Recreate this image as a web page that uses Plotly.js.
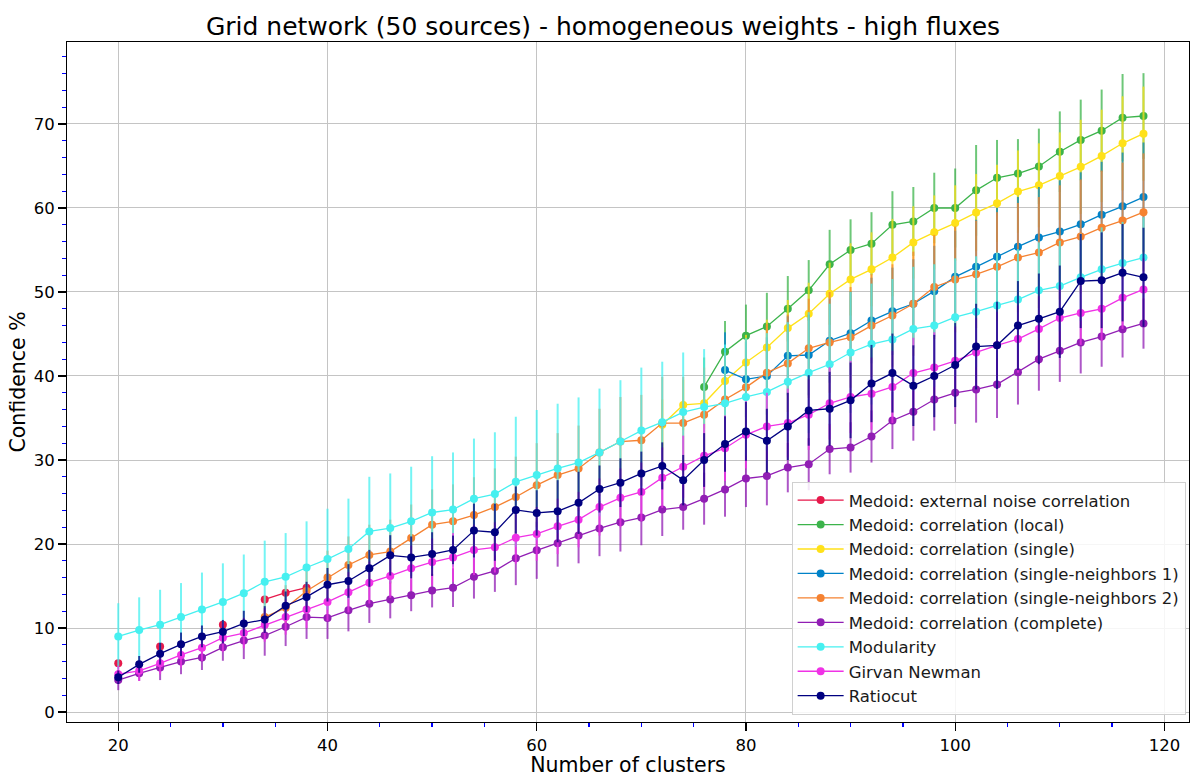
<!DOCTYPE html>
<html>
<head>
<meta charset="utf-8">
<script src="https://cdn.plot.ly/plotly-3.0.1.min.js"></script>
<style>html,body{margin:0;padding:0;background:#fff;}#chart{width:1195px;height:777px;}</style>
</head>
<body>
<div id="chart"></div>
<script>
// Number of clusters (x axis)
const clusters = [20,22,24,26,28,30,32,34,36,38,40,42,44,46,48,50,52,54,56,58,60,62,64,66,68,70,72,74,76,78,80,82,84,86,88,90,92,94,96,98,100,102,104,106,108,110,112,114,116,118];

// Series names
const names = [
  "Medoid: external noise correlation",
  "Medoid: correlation (local)",
  "Medoid: correlation (single)",
  "Medoid: correlation (single-neighbors 1)",
  "Medoid: correlation (single-neighbors 2)",
  "Medoid: correlation (complete)",
  "Modularity",
  "Girvan Newman",
  "Ratiocut"
];

// Medoid: external noise correlation (x = 20..38, gaps = null)
const externalNoise = [5.8, null, 7.8, null, null, 10.4, null, 13.4, 14.2, 14.8];

// Medoid: correlation (local) (x = 76..118)
const localVals = [38.7,42.9,44.8,45.9,48.0,50.2,53.3,55.0,55.75,58.0,58.4,60.0,60.0,62.1,63.6,64.1,64.95,66.7,68.1,69.2,70.75,70.95];
const localErr  = [3.5,3.65,3.7,4.0,3.9,3.6,4.1,3.65,3.75,4.0,4.1,4.2,4.7,5.4,4.5,4.1,4.5,4.8,4.8,4.9,5.2,5.1];

// Medoid: correlation (single) (x = 72..118)
const singleVals = [34.2,36.55,36.75,39.4,41.6,43.4,45.7,47.4,49.8,51.5,52.7,54.1,55.9,57.1,58.2,59.45,60.55,61.95,62.7,63.8,64.9,66.2,67.7,68.85];
const singleErr  = [3.0,3.0,3.0,3.2,3.3,3.3,3.35,3.7,3.7,4.3,4.4,4.6,4.3,4.4,4.5,4.6,4.6,4.9,5.0,5.2,5.6,5.5,5.6,5.6];

// Medoid: correlation (single-neighbors 1) (x = 78..118)
const sn1Vals = [40.7,39.6,40.0,42.4,42.5,44.2,45.1,46.6,47.7,48.6,50.1,51.8,53.0,54.2,55.4,56.5,57.2,58.05,59.2,60.2,61.3];
const sn1Err  = [4.5,4.5,4.6,4.7,4.8,5.0,5.0,5.1,5.2,5.3,5.4,5.5,5.6,5.8,5.9,6.0,6.1,6.2,6.3,6.4,6.5];

// Medoid: correlation (single-neighbors 2) (x = 34..118)
const sn2Vals = [11.3,12.4,14.4,16.0,17.5,18.7,19.1,20.7,22.3,22.7,
                 23.45,24.4,25.6,27.0,28.2,29.0,30.9,32.2,32.35,34.4,
                 34.4,35.4,37.2,38.65,40.4,41.5,43.3,44.0,44.6,46.0,
                 47.2,48.6,50.6,51.5,52.1,53.0,54.1,54.7,55.9,56.6,
                 57.65,58.5,59.5];
const sn2Err  = [2.5,2.7,3.0,3.2,3.4,3.6,3.8,4.0,4.2,4.4,
                 4.5,4.6,4.8,5.0,5.0,5.1,5.2,5.3,5.4,5.5,
                 5.5,5.6,5.6,5.7,5.8,5.8,5.9,6.0,6.0,6.1,
                 6.1,6.2,6.2,6.3,6.4,6.5,6.5,6.6,6.8,6.8,
                 6.8,6.9,7.0];

// Medoid: correlation (complete) (x = 20..118)
const completeVals = [3.8,4.6,5.3,6.0,6.5,7.7,8.5,9.1,10.15,11.3,
                      11.2,12.1,12.9,13.4,13.9,14.45,14.8,16.1,16.8,18.3,
                      19.25,20.1,21.0,21.85,22.6,23.15,24.1,24.4,25.4,26.5,
                      27.8,28.1,29.1,29.5,31.3,31.5,32.8,34.7,35.75,37.2,
                      38.0,38.4,39.0,40.45,42.0,43.0,44.0,44.7,45.55,46.25];
const completeErr  = [1.2,0.9,1.5,1.5,1.5,1.6,2.2,2.4,2.3,2.6,
                      2.5,2.5,2.3,2.25,1.9,2.0,2.3,2.6,2.5,3.2,
                      3.4,2.8,3.3,3.3,3.5,3.3,3.15,2.7,3.1,3.25,
                      3.4,3.5,2.95,3.1,3.0,3.0,3.1,3.4,3.45,3.7,
                      3.7,3.95,4.0,3.85,3.75,3.7,3.7,3.6,3.35,3.0];

// Modularity (x = 20..118)
const modularityVals = [9.0,9.75,10.4,11.3,12.2,13.1,14.15,15.5,16.1,17.2,
                        18.2,19.4,21.5,21.9,22.7,23.75,24.1,25.4,25.95,27.4,
                        28.2,29.0,29.7,30.9,32.2,33.5,34.5,35.7,36.3,36.75,
                        37.5,38.1,39.3,40.4,41.4,42.8,43.8,44.35,45.6,46.0,
                        47.0,47.65,48.4,49.1,50.2,50.7,51.75,52.7,53.45,54.1];
const modularityErr  = [3.95,3.9,4.15,4.05,4.4,4.6,4.6,4.9,5.2,5.5,
                        6.0,6.0,6.5,6.5,6.5,6.7,6.8,7.15,7.35,7.75,
                        7.75,7.7,7.75,7.6,7.3,7.5,7.2,7.1,6.9,7.0,
                        7.0,7.0,7.1,7.2,7.2,7.2,7.2,7.2,7.4,7.3,
                        7.0,6.6,6.3,6.0,5.7,5.4,5.2,5.0,4.9,4.8];

// Girvan Newman (x = 20..118)
const girvanVals = [4.5,4.9,5.8,6.8,7.65,8.85,9.4,10.36,11.3,12.2,
                    13.1,14.25,15.4,16.2,17.1,17.85,18.4,19.3,19.6,20.75,
                    21.2,22.1,22.9,24.4,25.5,26.2,27.9,29.2,30.5,31.4,
                    33.0,34.0,34.4,35.4,36.75,37.5,37.9,38.7,40.35,41.0,
                    41.8,42.8,43.65,44.4,45.6,46.9,47.5,48.0,49.3,50.3];
const girvanErr  = [1.0,1.2,1.3,1.5,1.6,1.7,1.8,2.0,2.1,2.2,
                    2.3,2.4,2.5,2.6,2.7,2.8,2.9,3.0,3.0,3.1,
                    3.2,3.3,3.3,3.4,3.5,3.5,3.6,3.7,3.8,3.9,
                    4.0,4.0,4.1,4.2,4.3,4.3,4.3,4.3,4.2,4.2,
                    4.1,4.1,4.0,4.0,3.9,3.9,3.8,3.8,3.7,3.7];

// Ratiocut (x = 20..118)
const ratiocutVals = [4.13,5.67,6.94,8.06,9.0,9.56,10.55,11.0,12.65,13.7,
                      15.15,15.6,17.1,18.65,18.4,18.8,19.3,21.6,21.4,24.05,
                      23.7,23.9,24.9,26.55,27.3,28.4,29.3,27.6,30.0,31.9,
                      33.4,32.3,34.0,35.9,36.1,37.1,39.1,40.35,38.85,40.0,
                      41.3,43.5,43.65,46.0,46.8,47.65,51.3,51.4,52.3,51.75];
const ratiocutErr  = [0.8,1.0,1.3,1.4,1.3,1.4,1.5,1.6,1.7,1.8,
                      2.0,2.0,2.2,2.4,2.5,2.6,1.7,3.2,3.4,2.8,
                      2.7,3.7,3.7,2.8,2.9,2.6,2.8,3.0,3.2,3.3,
                      3.5,3.8,4.0,4.2,4.4,4.5,4.6,4.7,4.8,4.9,
                      5.0,5.1,5.2,5.3,5.4,5.5,5.6,5.7,5.8,5.9];

const colors = ["#e6194b","#3cb44b","#ffe119","#0082c8","#f58231","#911eb4","#46f0f0","#f032e6","#000080"];

function rgba(hex, a) {
  const r = parseInt(hex.slice(1,3),16), g = parseInt(hex.slice(3,5),16), b = parseInt(hex.slice(5,7),16);
  return `rgba(${r},${g},${b},${a})`;
}
function tailX(vals) { return clusters.slice(clusters.length - vals.length); }

const seriesVals = [externalNoise, localVals, singleVals, sn1Vals, sn2Vals, completeVals, modularityVals, girvanVals, ratiocutVals];
const seriesErr  = [null, localErr, singleErr, sn1Err, sn2Err, completeErr, modularityErr, girvanErr, ratiocutErr];

const traces = [];
seriesVals.forEach((vals, i) => {
  const xs = (i === 0) ? clusters.slice(0, vals.length) : tailX(vals);
  if (seriesErr[i]) {
    // error bars first (beneath the series' own line and markers)
    traces.push({
      type: 'scatter', mode: 'markers', x: xs, y: vals,
      showlegend: false, hoverinfo: 'skip',
      marker: {color: colors[i], size: 1, opacity: 0},
      error_y: {type: 'data', array: seriesErr[i], visible: true, color: rgba(colors[i], 0.75), thickness: 2, width: 0}
    });
  }
  traces.push({
    type: 'scatter',
    mode: 'lines+markers',
    name: names[i],
    x: xs,
    y: vals,
    connectgaps: false,
    line: {color: colors[i], width: 1.3},
    marker: {color: colors[i], size: 8}
  });
});

const axisCommon = {
  showline: true, mirror: true, linecolor: '#000', linewidth: 1,
  ticks: 'outside', ticklen: 8, tickwidth: 1.3, tickcolor: '#000',
  showgrid: true, gridcolor: '#c4c4c4', gridwidth: 1,
  zeroline: false,
  tickfont: {family: 'DejaVu Sans', size: 16.5, color: '#000'}
};

const layout = {
  width: 1195, height: 777,
  paper_bgcolor: '#fff', plot_bgcolor: '#fff',
  font: {family: 'DejaVu Sans', color: '#000'},
  margin: {l: 67, r: 6, t: 42, b: 55},
  title: {text: 'Grid network (50 sources) - homogeneous weights - high fluxes',
          font: {family: 'DejaVu Sans', size: 25, color: '#000'},
          x: 0.5046, xref: 'container', xanchor: 'center',
          y: 1 - 26/777, yref: 'container', yanchor: 'middle'},
  xaxis: Object.assign({}, axisCommon, {
    range: [15.1, 122.35], tick0: 20, dtick: 20,
    minor: {dtick: 5, tick0: 0, ticks: 'outside', ticklen: 4, tickwidth: 1.3, tickcolor: 'blue', showgrid: false},
    title: {text: 'Number of clusters', font: {family: 'DejaVu Sans', size: 20.5, color: '#000'}, standoff: 0}
  }),
  yaxis: Object.assign({}, axisCommon, {
    range: [-1.19, 79.76], tick0: 0, dtick: 10,
    minor: {dtick: 2, tick0: 0, ticks: 'outside', ticklen: 4, tickwidth: 1.3, tickcolor: 'blue', showgrid: false},
    title: {text: 'Confidence %', font: {family: 'DejaVu Sans', size: 20.5, color: '#000'}, standoff: 2}
  }),
  legend: {
    x: 0.997, xanchor: 'right', y: 0.0105, yanchor: 'bottom',
    bgcolor: 'rgba(255,255,255,0.85)', bordercolor: '#d0d0d0', borderwidth: 1,
    font: {family: 'DejaVu Sans', size: 16.5, color: '#1a1a1a'},
    itemwidth: 46, traceorder: 'normal'
  },
  showlegend: true
};

Plotly.newPlot('chart', traces, layout, {displayModeBar: false, staticPlot: true});
</script>
</body>
</html>
